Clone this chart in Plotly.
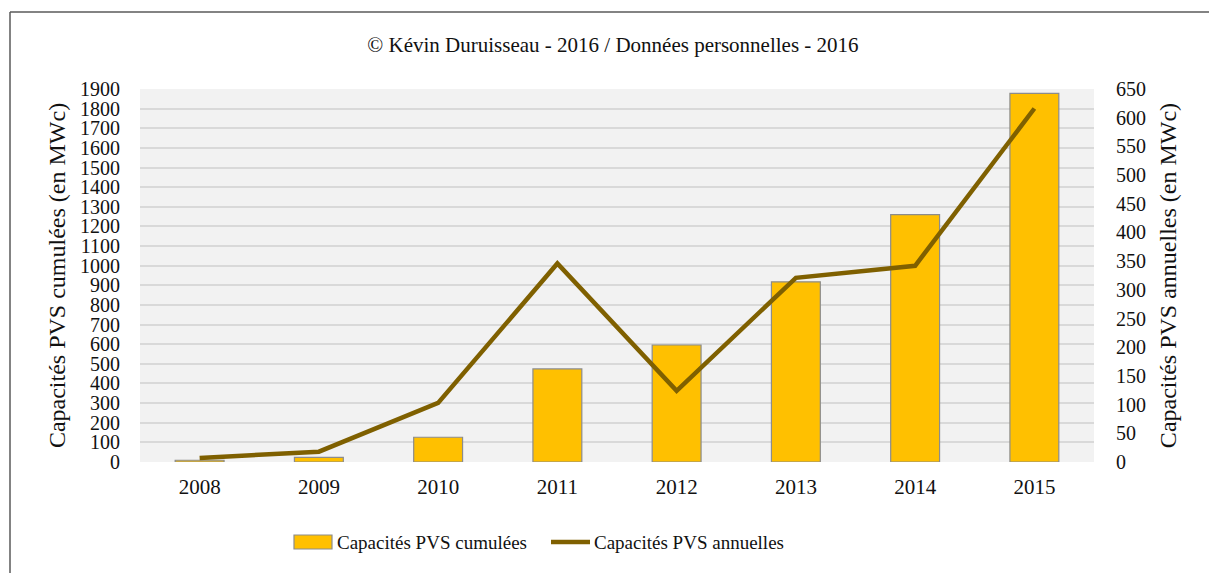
import plotly.graph_objects as go

years = ["2008", "2009", "2010", "2011", "2012", "2013", "2014", "2015"]
cumulees = [9, 24, 126, 474, 596, 918, 1260, 1878]
annuelles = [7, 18, 103, 346, 124, 321, 342, 616]

left_ticks = list(range(0, 2000, 100))
right_ticks = list(range(0, 700, 50))

FONT = "Liberation Serif"
W, H = 1209, 573
ML, MR, MT, MB = 140, 115, 89, 111
pw, ph = W - ML - MR, H - MT - MB

BAR_NAME = "Capacités PVS cumulées"
LINE_NAME = "Capacités PVS annuelles"
BAR_FILL, BAR_EDGE, LINE_COLOR = "#FFC000", "#8C8C8C", "#7F6000"
TEXT = "#111111"

fig = go.Figure()
fig.add_trace(go.Bar(
    x=years, y=cumulees, name=BAR_NAME,
    marker=dict(color=BAR_FILL, line=dict(color=BAR_EDGE, width=1.2)),
    yaxis="y", showlegend=False,
))
fig.add_trace(go.Scatter(
    x=years, y=annuelles, name=LINE_NAME,
    mode="lines", line=dict(color=LINE_COLOR, width=4.5),
    yaxis="y2", showlegend=False,
))


def px_x(x):
    return (x - ML) / pw


def px_y(y):
    return (H - MB - y) / ph


# outer frame (left and top edges)
bx, by = px_x(10), px_y(12)
frame = dict(color="#5A5A5A", width=1.5)
fig.add_shape(type="line", xref="paper", yref="paper", x0=bx, x1=bx, y0=-1, y1=by, line=frame)
fig.add_shape(type="line", xref="paper", yref="paper", x0=bx, x1=2, y0=by, y1=by, line=frame)

# legend drawn below the plot
ly = 542
fig.add_shape(type="rect", xref="paper", yref="paper",
              x0=px_x(294), x1=px_x(332), y0=px_y(ly + 7), y1=px_y(ly - 7),
              fillcolor=BAR_FILL, line=dict(color=BAR_EDGE, width=1.2))
fig.add_shape(type="line", xref="paper", yref="paper",
              x0=px_x(551), x1=px_x(590), y0=px_y(ly), y1=px_y(ly),
              line=dict(color=LINE_COLOR, width=4.5))
for x0, txt in [(335, BAR_NAME), (592, LINE_NAME)]:
    fig.add_annotation(xref="paper", yref="paper", x=px_x(x0), y=px_y(ly),
                       xanchor="left", yanchor="middle", text=txt, showarrow=False,
                       font=dict(family=FONT, size=19, color=TEXT))

fig.update_layout(
    width=W, height=H,
    margin=dict(l=ML, r=MR, t=MT, b=MB),
    paper_bgcolor="white",
    plot_bgcolor="#F2F2F2",
    font=dict(family=FONT, size=20, color=TEXT),
    title=dict(text="© Kévin Duruisseau - 2016 / Données personnelles - 2016",
               x=0.507, xanchor="center", y=1 - 45 / H, yanchor="middle",
               font=dict(family=FONT, size=21, color=TEXT)),
    bargap=0.59,
    showlegend=False,
    xaxis=dict(showgrid=False, ticks="", ticklabelstandoff=10,
               tickfont=dict(family=FONT, size=21), showline=False, zeroline=False),
    yaxis=dict(range=[0, 1900], tickvals=left_ticks, ticks="",
               gridcolor="#D9D9D9", gridwidth=1.5, zeroline=False,
               ticklabelstandoff=19, tickfont=dict(family=FONT, size=20),
               title=dict(text="Capacités PVS cumulées (en MWc)", standoff=7,
                          font=dict(family=FONT, size=24))),
    yaxis2=dict(range=[0, 650], tickvals=right_ticks, overlaying="y", side="right",
                showgrid=False, zeroline=False, ticks="",
                ticklabelstandoff=21, tickfont=dict(family=FONT, size=20),
                title=dict(text="Capacités PVS annuelles (en MWc)", standoff=14,
                           font=dict(family=FONT, size=24))),
)

fig.write_html("out.html")
